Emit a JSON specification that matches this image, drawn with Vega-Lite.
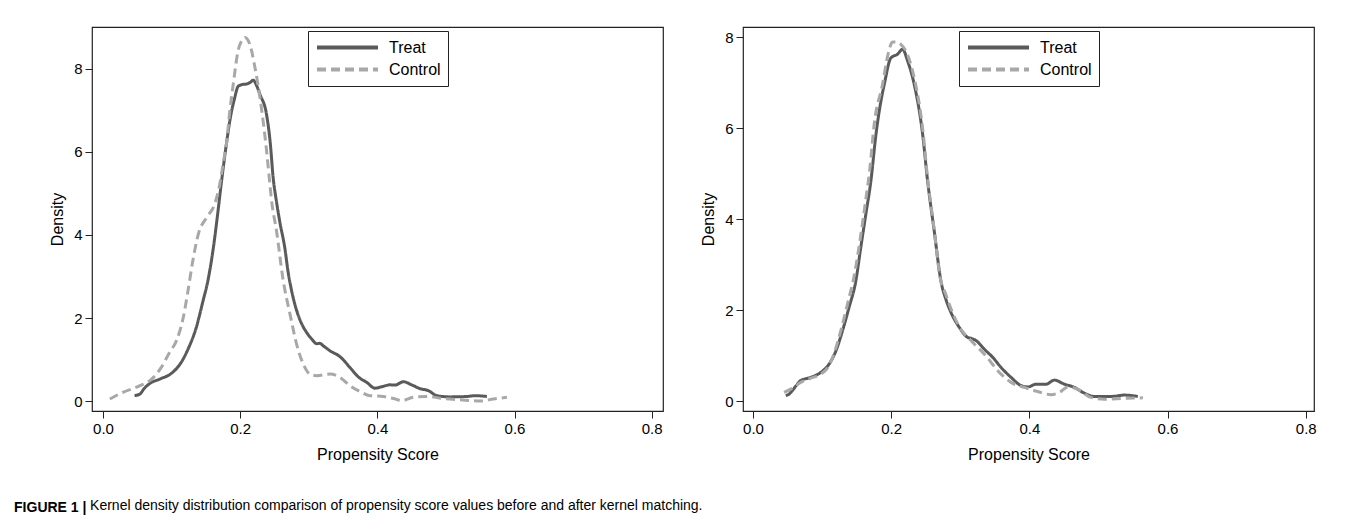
{
  "$schema": "https://vega.github.io/schema/vega-lite/v6.json",
  "background": "white",
  "padding": {"left": 14, "top": 26, "right": 10, "bottom": 5},
  "config": {
    "font": "Liberation Sans",
    "view": {"stroke": "#222", "strokeWidth": 1.2},
    "axis": {"grid": false, "domain": false, "tickColor": "#222", "tickSize": 7, "tickWidth": 1, "labelFontSize": 15, "labelColor": "#000", "labelPadding": 3, "labelFlush": false, "titleFontSize": 16, "titleFontWeight": "normal", "titleColor": "#000"},
    "axisY": {"titlePadding": 8},
    "axisX": {"titlePadding": 10},
    "legend": {"orient": "none", "legendX": 216, "legendY": 4, "direction": "vertical", "strokeColor": "#222", "fillColor": "white", "padding": 7, "clipHeight": 19, "rowPadding": 3, "symbolType": "stroke", "symbolSize": 3721, "symbolStrokeWidth": 4, "labelFontSize": 16, "labelColor": "#000", "labelOffset": 9, "title": null}
  },
  "datasets": {
    "left": [
      {"g": "Treat", "ps": 0.046, "d": 0.13}, {"g": "Treat", "ps": 0.054, "d": 0.17}, {"g": "Treat", "ps": 0.060, "d": 0.30}, {"g": "Treat", "ps": 0.068, "d": 0.42}, {"g": "Treat", "ps": 0.083, "d": 0.53}, {"g": "Treat", "ps": 0.100, "d": 0.67}, {"g": "Treat", "ps": 0.114, "d": 0.93}, {"g": "Treat", "ps": 0.124, "d": 1.25}, {"g": "Treat", "ps": 0.136, "d": 1.77}, {"g": "Treat", "ps": 0.146, "d": 2.42}, {"g": "Treat", "ps": 0.153, "d": 2.90}, {"g": "Treat", "ps": 0.161, "d": 3.70}, {"g": "Treat", "ps": 0.166, "d": 4.34}, {"g": "Treat", "ps": 0.173, "d": 5.31}, {"g": "Treat", "ps": 0.180, "d": 6.20}, {"g": "Treat", "ps": 0.186, "d": 6.85}, {"g": "Treat", "ps": 0.192, "d": 7.30}, {"g": "Treat", "ps": 0.197, "d": 7.58}, {"g": "Treat", "ps": 0.202, "d": 7.62}, {"g": "Treat", "ps": 0.210, "d": 7.64}, {"g": "Treat", "ps": 0.215, "d": 7.68}, {"g": "Treat", "ps": 0.219, "d": 7.73}, {"g": "Treat", "ps": 0.224, "d": 7.60}, {"g": "Treat", "ps": 0.229, "d": 7.38}, {"g": "Treat", "ps": 0.2385, "d": 6.90}, {"g": "Treat", "ps": 0.244, "d": 6.20}, {"g": "Treat", "ps": 0.248, "d": 5.40}, {"g": "Treat", "ps": 0.253, "d": 4.80}, {"g": "Treat", "ps": 0.258, "d": 4.30}, {"g": "Treat", "ps": 0.265, "d": 3.70}, {"g": "Treat", "ps": 0.270, "d": 3.10}, {"g": "Treat", "ps": 0.275, "d": 2.66}, {"g": "Treat", "ps": 0.282, "d": 2.20}, {"g": "Treat", "ps": 0.290, "d": 1.85}, {"g": "Treat", "ps": 0.297, "d": 1.65}, {"g": "Treat", "ps": 0.305, "d": 1.48}, {"g": "Treat", "ps": 0.3115, "d": 1.38}, {"g": "Treat", "ps": 0.316, "d": 1.39}, {"g": "Treat", "ps": 0.322, "d": 1.32}, {"g": "Treat", "ps": 0.331, "d": 1.21}, {"g": "Treat", "ps": 0.3455, "d": 1.07}, {"g": "Treat", "ps": 0.360, "d": 0.81}, {"g": "Treat", "ps": 0.372, "d": 0.585}, {"g": "Treat", "ps": 0.3845, "d": 0.45}, {"g": "Treat", "ps": 0.3966, "d": 0.31}, {"g": "Treat", "ps": 0.4064, "d": 0.345}, {"g": "Treat", "ps": 0.4185, "d": 0.39}, {"g": "Treat", "ps": 0.4258, "d": 0.385}, {"g": "Treat", "ps": 0.438, "d": 0.465}, {"g": "Treat", "ps": 0.450, "d": 0.39}, {"g": "Treat", "ps": 0.462, "d": 0.30}, {"g": "Treat", "ps": 0.4745, "d": 0.25}, {"g": "Treat", "ps": 0.4867, "d": 0.13}, {"g": "Treat", "ps": 0.506, "d": 0.10}, {"g": "Treat", "ps": 0.5305, "d": 0.11}, {"g": "Treat", "ps": 0.5426, "d": 0.13}, {"g": "Treat", "ps": 0.5597, "d": 0.11},
      {"g": "Control", "ps": 0.010, "d": 0.05}, {"g": "Control", "ps": 0.029, "d": 0.21}, {"g": "Control", "ps": 0.054, "d": 0.37}, {"g": "Control", "ps": 0.071, "d": 0.53}, {"g": "Control", "ps": 0.085, "d": 0.81}, {"g": "Control", "ps": 0.097, "d": 1.17}, {"g": "Control", "ps": 0.107, "d": 1.45}, {"g": "Control", "ps": 0.117, "d": 2.01}, {"g": "Control", "ps": 0.124, "d": 2.66}, {"g": "Control", "ps": 0.131, "d": 3.38}, {"g": "Control", "ps": 0.139, "d": 4.02}, {"g": "Control", "ps": 0.151, "d": 4.42}, {"g": "Control", "ps": 0.163, "d": 4.75}, {"g": "Control", "ps": 0.170, "d": 5.20}, {"g": "Control", "ps": 0.176, "d": 5.80}, {"g": "Control", "ps": 0.180, "d": 6.19}, {"g": "Control", "ps": 0.185, "d": 7.00}, {"g": "Control", "ps": 0.190, "d": 7.64}, {"g": "Control", "ps": 0.197, "d": 8.44}, {"g": "Control", "ps": 0.203, "d": 8.70}, {"g": "Control", "ps": 0.207, "d": 8.76}, {"g": "Control", "ps": 0.214, "d": 8.60}, {"g": "Control", "ps": 0.2215, "d": 8.04}, {"g": "Control", "ps": 0.2288, "d": 7.32}, {"g": "Control", "ps": 0.2385, "d": 6.03}, {"g": "Control", "ps": 0.2433, "d": 5.23}, {"g": "Control", "ps": 0.2458, "d": 4.83}, {"g": "Control", "ps": 0.253, "d": 4.10}, {"g": "Control", "ps": 0.2628, "d": 2.90}, {"g": "Control", "ps": 0.2726, "d": 2.10}, {"g": "Control", "ps": 0.2823, "d": 1.37}, {"g": "Control", "ps": 0.292, "d": 0.89}, {"g": "Control", "ps": 0.3017, "d": 0.65}, {"g": "Control", "ps": 0.3115, "d": 0.61}, {"g": "Control", "ps": 0.331, "d": 0.65}, {"g": "Control", "ps": 0.3455, "d": 0.57}, {"g": "Control", "ps": 0.360, "d": 0.37}, {"g": "Control", "ps": 0.3747, "d": 0.23}, {"g": "Control", "ps": 0.389, "d": 0.13}, {"g": "Control", "ps": 0.4088, "d": 0.11}, {"g": "Control", "ps": 0.4234, "d": 0.06}, {"g": "Control", "ps": 0.4356, "d": 0.01}, {"g": "Control", "ps": 0.4526, "d": 0.09}, {"g": "Control", "ps": 0.472, "d": 0.11}, {"g": "Control", "ps": 0.4964, "d": 0.06}, {"g": "Control", "ps": 0.5207, "d": 0.03}, {"g": "Control", "ps": 0.550, "d": 0.0}, {"g": "Control", "ps": 0.5693, "d": 0.05}, {"g": "Control", "ps": 0.589, "d": 0.09}
    ],
    "right": [
      {"g": "Treat", "ps": 0.0474, "d": 0.12}, {"g": "Treat", "ps": 0.052, "d": 0.15}, {"g": "Treat", "ps": 0.057, "d": 0.23}, {"g": "Treat", "ps": 0.063, "d": 0.35}, {"g": "Treat", "ps": 0.069, "d": 0.45}, {"g": "Treat", "ps": 0.0836, "d": 0.52}, {"g": "Treat", "ps": 0.098, "d": 0.63}, {"g": "Treat", "ps": 0.110, "d": 0.81}, {"g": "Treat", "ps": 0.1199, "d": 1.10}, {"g": "Treat", "ps": 0.1296, "d": 1.55}, {"g": "Treat", "ps": 0.139, "d": 2.06}, {"g": "Treat", "ps": 0.1488, "d": 2.64}, {"g": "Treat", "ps": 0.156, "d": 3.38}, {"g": "Treat", "ps": 0.1633, "d": 4.11}, {"g": "Treat", "ps": 0.1706, "d": 4.84}, {"g": "Treat", "ps": 0.178, "d": 5.87}, {"g": "Treat", "ps": 0.184, "d": 6.50}, {"g": "Treat", "ps": 0.190, "d": 6.97}, {"g": "Treat", "ps": 0.1996, "d": 7.55}, {"g": "Treat", "ps": 0.209, "d": 7.63}, {"g": "Treat", "ps": 0.2165, "d": 7.74}, {"g": "Treat", "ps": 0.2238, "d": 7.48}, {"g": "Treat", "ps": 0.2333, "d": 6.97}, {"g": "Treat", "ps": 0.2455, "d": 5.87}, {"g": "Treat", "ps": 0.2527, "d": 4.84}, {"g": "Treat", "ps": 0.2623, "d": 3.74}, {"g": "Treat", "ps": 0.272, "d": 2.64}, {"g": "Treat", "ps": 0.280, "d": 2.20}, {"g": "Treat", "ps": 0.2865, "d": 1.95}, {"g": "Treat", "ps": 0.2986, "d": 1.62}, {"g": "Treat", "ps": 0.3107, "d": 1.40}, {"g": "Treat", "ps": 0.3155, "d": 1.38}, {"g": "Treat", "ps": 0.3228, "d": 1.33}, {"g": "Treat", "ps": 0.3348, "d": 1.14}, {"g": "Treat", "ps": 0.347, "d": 0.96}, {"g": "Treat", "ps": 0.359, "d": 0.74}, {"g": "Treat", "ps": 0.3735, "d": 0.52}, {"g": "Treat", "ps": 0.388, "d": 0.34}, {"g": "Treat", "ps": 0.3977, "d": 0.31}, {"g": "Treat", "ps": 0.4097, "d": 0.37}, {"g": "Treat", "ps": 0.4242, "d": 0.37}, {"g": "Treat", "ps": 0.4362, "d": 0.46}, {"g": "Treat", "ps": 0.4507, "d": 0.37}, {"g": "Treat", "ps": 0.4652, "d": 0.30}, {"g": "Treat", "ps": 0.4774, "d": 0.19}, {"g": "Treat", "ps": 0.4942, "d": 0.10}, {"g": "Treat", "ps": 0.5184, "d": 0.10}, {"g": "Treat", "ps": 0.5377, "d": 0.13}, {"g": "Treat", "ps": 0.557, "d": 0.10},
      {"g": "Control", "ps": 0.045, "d": 0.19}, {"g": "Control", "ps": 0.057, "d": 0.28}, {"g": "Control", "ps": 0.069, "d": 0.41}, {"g": "Control", "ps": 0.083, "d": 0.50}, {"g": "Control", "ps": 0.098, "d": 0.59}, {"g": "Control", "ps": 0.110, "d": 0.78}, {"g": "Control", "ps": 0.117, "d": 1.03}, {"g": "Control", "ps": 0.128, "d": 1.60}, {"g": "Control", "ps": 0.137, "d": 2.15}, {"g": "Control", "ps": 0.147, "d": 2.80}, {"g": "Control", "ps": 0.155, "d": 3.55}, {"g": "Control", "ps": 0.162, "d": 4.30}, {"g": "Control", "ps": 0.169, "d": 5.10}, {"g": "Control", "ps": 0.1754, "d": 6.09}, {"g": "Control", "ps": 0.1875, "d": 6.97}, {"g": "Control", "ps": 0.195, "d": 7.60}, {"g": "Control", "ps": 0.202, "d": 7.90}, {"g": "Control", "ps": 0.208, "d": 7.90}, {"g": "Control", "ps": 0.214, "d": 7.85}, {"g": "Control", "ps": 0.2213, "d": 7.70}, {"g": "Control", "ps": 0.2333, "d": 7.11}, {"g": "Control", "ps": 0.2455, "d": 6.00}, {"g": "Control", "ps": 0.2527, "d": 4.90}, {"g": "Control", "ps": 0.262, "d": 3.80}, {"g": "Control", "ps": 0.271, "d": 2.70}, {"g": "Control", "ps": 0.279, "d": 2.35}, {"g": "Control", "ps": 0.286, "d": 2.05}, {"g": "Control", "ps": 0.298, "d": 1.65}, {"g": "Control", "ps": 0.3155, "d": 1.33}, {"g": "Control", "ps": 0.3348, "d": 1.03}, {"g": "Control", "ps": 0.359, "d": 0.59}, {"g": "Control", "ps": 0.3735, "d": 0.41}, {"g": "Control", "ps": 0.3928, "d": 0.30}, {"g": "Control", "ps": 0.412, "d": 0.21}, {"g": "Control", "ps": 0.4315, "d": 0.14}, {"g": "Control", "ps": 0.4435, "d": 0.19}, {"g": "Control", "ps": 0.4556, "d": 0.31}, {"g": "Control", "ps": 0.470, "d": 0.26}, {"g": "Control", "ps": 0.489, "d": 0.08}, {"g": "Control", "ps": 0.5087, "d": 0.04}, {"g": "Control", "ps": 0.5377, "d": 0.06}, {"g": "Control", "ps": 0.5643, "d": 0.07}
    ]
  },
  "title": {"text": "Kernel density distribution comparison of propensity score values before and after kernel matching.", "orient": "bottom", "anchor": "start", "fontSize": 14, "fontWeight": "normal", "color": "#000", "offset": -16, "dx": 76},
  "vconcat": [
    {
      "title": {"text": "FIGURE 1 |", "orient": "bottom", "anchor": "start", "fontSize": 14, "fontWeight": "bold", "color": "#000", "offset": 38, "dx": -35},
      "resolve": {"scale": {"color": "independent", "strokeDash": "independent"}},
      "spacing": 36,
      "hconcat": [
        {
          "width": 571, "height": 384,
          "data": {"name": "left"},
          "mark": {"type": "line", "strokeWidth": 3, "interpolate": "monotone"},
          "encoding": {
            "x": {"field": "ps", "type": "quantitative", "title": "Propensity Score", "scale": {"domain": [-0.016, 0.8165], "nice": false, "zero": false}, "axis": {"values": [0, 0.2, 0.4, 0.6, 0.8], "format": ".1f"}},
            "y": {"field": "d", "type": "quantitative", "title": "Density", "scale": {"domain": [-0.24, 9.01], "nice": false, "zero": false}, "axis": {"values": [0, 2, 4, 6, 8], "format": "d"}},
            "color": {"field": "g", "type": "nominal", "scale": {"domain": ["Treat", "Control"], "range": ["#5a5a5a", "#a8a8a8"]}},
            "strokeDash": {"field": "g", "type": "nominal", "scale": {"domain": ["Treat", "Control"], "range": [[1, 0], [9, 5]]}}
          }
        },
        {
          "width": 571, "height": 384,
          "data": {"name": "right"},
          "mark": {"type": "line", "strokeWidth": 3, "interpolate": "monotone"},
          "encoding": {
            "x": {"field": "ps", "type": "quantitative", "title": "Propensity Score", "scale": {"domain": [-0.0145, 0.812], "nice": false, "zero": false}, "axis": {"values": [0, 0.2, 0.4, 0.6, 0.8], "format": ".1f"}},
            "y": {"field": "d", "type": "quantitative", "title": "Density", "scale": {"domain": [-0.22, 8.23], "nice": false, "zero": false}, "axis": {"values": [0, 2, 4, 6, 8], "format": "d"}},
            "color": {"field": "g", "type": "nominal", "scale": {"domain": ["Treat", "Control"], "range": ["#5a5a5a", "#a8a8a8"]}},
            "strokeDash": {"field": "g", "type": "nominal", "scale": {"domain": ["Treat", "Control"], "range": [[1, 0], [9, 5]]}}
          }
        }
      ]
    }
  ]
}
